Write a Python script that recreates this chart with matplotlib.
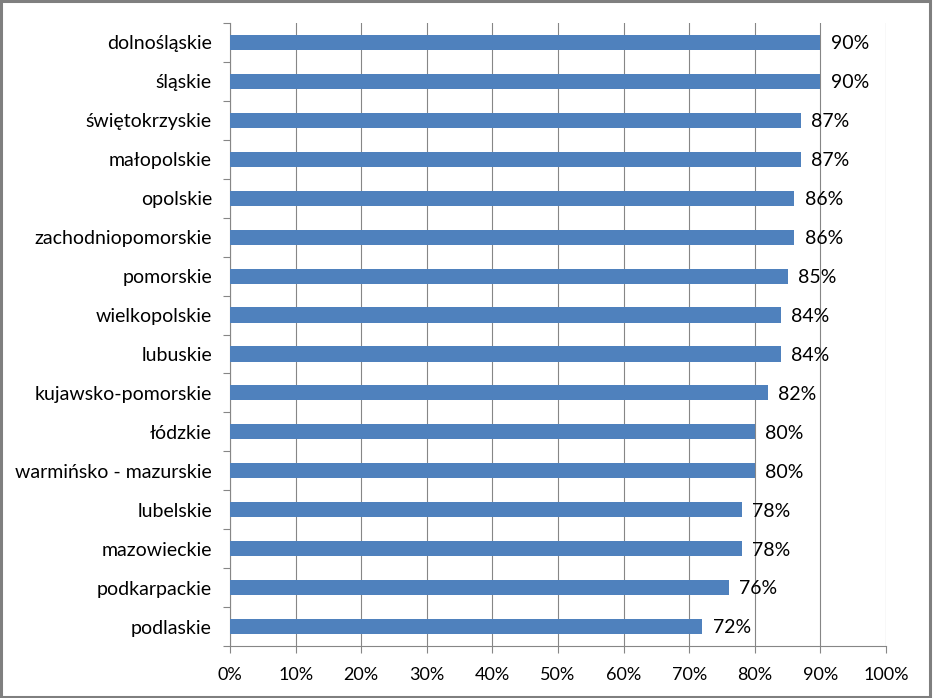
import matplotlib
import matplotlib.pyplot as plt
from matplotlib.patches import Rectangle
from matplotlib.ticker import PercentFormatter, FixedLocator

font = {'family': ['Lato', 'DejaVu Sans'], 'size': 14}
matplotlib.rc('font', **font)

regions = ['dolnośląskie', 'śląskie', 'świętokrzyskie', 'małopolskie', 'opolskie',
           'zachodniopomorskie', 'pomorskie', 'wielkopolskie', 'lubuskie',
           'kujawsko-pomorskie', 'łódzkie', 'warmińsko - mazurskie', 'lubelskie',
           'mazowieckie', 'podkarpackie', 'podlaskie']
values = [90, 90, 87, 87, 86, 86, 85, 84, 84, 82, 80, 80, 78, 78, 76, 72]

barColor = '#4F81BD'
gridColor = '#868686'

f = plt.figure(figsize=(9.33, 6.98), dpi=100)
ax = f.add_axes([230/933, 1-646/698, 656/933, 623/698])

pos = list(range(len(regions)))
ax.barh(pos, values, height=0.39, color=barColor, zorder=3)
for p, v in zip(pos, values):
	ax.annotate('%d%%' % v, (v, p), xytext=(7.5, -1), textcoords='offset points',
	            va='center', ha='left', fontsize=14, zorder=4)

ax.set_xlim(0, 100)
ax.set_ylim(len(regions)-0.5, -0.5)
ax.set_xticks(range(0, 101, 10))
ax.xaxis.set_major_formatter(PercentFormatter(decimals=0))
ax.set_yticks(pos)
ax.set_yticklabels(regions)
ax.yaxis.set_minor_locator(FixedLocator([p-0.5 for p in range(len(regions)+1)]))
ax.tick_params(axis='y', which='major', length=0, pad=13)
ax.tick_params(axis='y', which='minor', length=5, width=0.8, color=gridColor, direction='out')
ax.tick_params(axis='x', length=5, width=0.8, color=gridColor, direction='out', pad=10, labelsize=13)

ax.grid(axis='x', color=gridColor, linewidth=0.8, zorder=0)
for s in ['top', 'right']:
	ax.spines[s].set_visible(False)
for s in ['left', 'bottom']:
	ax.spines[s].set_color(gridColor)
	ax.spines[s].set_linewidth(0.8)

# outer frame of the picture
f.patches.append(Rectangle((0.001, 0.002), 0.996, 0.996, transform=f.transFigure,
                           fill=False, edgecolor='#7F7F7F', linewidth=2.2))

f.savefig('out.png', dpi=100)
